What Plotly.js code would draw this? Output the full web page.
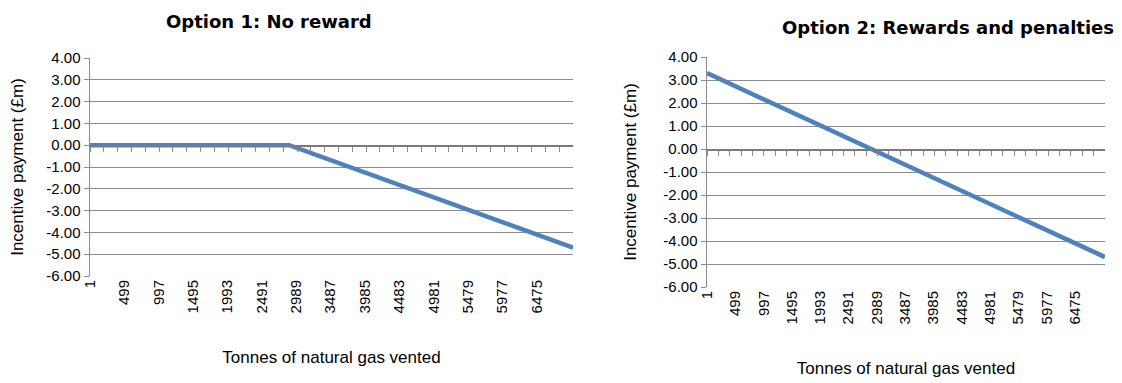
<!DOCTYPE html>
<html>
<head>
<meta charset="utf-8">
<script src="https://cdn.plot.ly/plotly-3.0.1.min.js"></script>
<style>
  html, body { margin: 0; padding: 0; background: #ffffff; }
  #chart { width: 1122px; height: 383px; }
</style>
</head>
<body>
<div id="chart"></div>
<script>
// Tonnes of natural gas vented at the points where each payment line changes
const tonnes = [1, 2888, 7000];
// Option 1: penalty only, no reward below the target
const optionNoReward = [0, 0, -4.70];
// Option 2: symmetric reward and penalty around the target
const optionRewardsPenalties = [3.30, 0, -4.70];

// Category labels shown along the horizontal axis
const tonneLabels = [1, 499, 997, 1495, 1993, 2491, 2989, 3487, 3985, 4483, 4981, 5479, 5977, 6475];
const paymentTicks = [4, 3, 2, 1, 0, -1, -2, -3, -4, -5, -6];

const chartTitles = ['Option 1: No reward', 'Option 2: Rewards and penalties'];
const xTitle = 'Tonnes of natural gas vented';
const yTitle = 'Incentive payment (£m)';

const W = 1122, H = 383;
const lineColor = '#4F81BD';
const gridColor = '#8c8c8c';
const sans = 'Liberation Sans, Arial, sans-serif';
const tickFont = { family: sans, size: 15, color: '#000000' };
const titleFont = { family: sans, size: 17, color: '#000000' };

// Plot panels in pixels: [left, right, top, bottom], plus title offsets
const panels = [
  { l: 90, r: 573, t: 58, b: 276, yStand: 18, xStand: 38 },
  { l: 707, r: 1105, t: 57, b: 287, yStand: 22, xStand: 38 }
];
const xDom = p => [p.l / W, p.r / W];
const yDom = p => [1 - p.b / H, 1 - p.t / H];
const yRange = [-6, 4];
const zeroPos = p => {
  const d = yDom(p);
  return d[0] + (0 - yRange[0]) / (yRange[1] - yRange[0]) * (d[1] - d[0]);
};
const xRange = [tonnes[0], tonnes[tonnes.length - 1]];

const labelAxis = (p, anchor) => ({
  domain: xDom(p), anchor: anchor, range: xRange,
  tickmode: 'array', tickvals: tonneLabels, ticktext: tonneLabels.map(String),
  tickangle: -90, ticks: '', showgrid: false, zeroline: false, showline: false,
  tickfont: tickFont,
  title: { text: xTitle, font: titleFont, standoff: p.xStand }
});
// Horizontal axis line drawn through zero with its small tick marks
const zeroAxis = (p, overlay) => ({
  domain: xDom(p), overlaying: overlay, anchor: 'free', position: zeroPos(p), range: xRange,
  tickmode: 'linear', tick0: 1, dtick: 200, ticks: 'outside', ticklen: 5, tickwidth: 1,
  tickcolor: '#8c8c8c', showticklabels: false, showgrid: false, zeroline: false,
  showline: true, linecolor: '#7a7a7a', linewidth: 1.5
});
const valueAxis = (p, anchor) => ({
  domain: yDom(p), anchor: anchor, range: yRange,
  tickmode: 'array', tickvals: paymentTicks, ticktext: paymentTicks.map(v => v.toFixed(2)),
  ticks: 'outside', ticklen: 5, tickcolor: '#8c8c8c',
  showgrid: true, gridcolor: gridColor, gridwidth: 1, zeroline: false,
  showline: true, linecolor: '#8c8c8c', linewidth: 1.5,
  tickfont: tickFont,
  title: { text: yTitle, font: titleFont, standoff: p.yStand }
});

const traces = [
  // carriers so the zero-line axes are drawn
  { x: xRange, y: [0, 0], xaxis: 'x3', yaxis: 'y', type: 'scatter', mode: 'lines',
    line: { color: 'rgba(0,0,0,0)', width: 0 }, hoverinfo: 'skip' },
  { x: xRange, y: [0, 0], xaxis: 'x4', yaxis: 'y2', type: 'scatter', mode: 'lines',
    line: { color: 'rgba(0,0,0,0)', width: 0 }, hoverinfo: 'skip' },
  { x: tonnes, y: optionNoReward, xaxis: 'x', yaxis: 'y', type: 'scatter', mode: 'lines',
    line: { color: lineColor, width: 4.5 }, hoverinfo: 'skip' },
  { x: tonnes, y: optionRewardsPenalties, xaxis: 'x2', yaxis: 'y2', type: 'scatter', mode: 'lines',
    line: { color: lineColor, width: 4.5 }, hoverinfo: 'skip' }
];

const layout = {
  width: W, height: H,
  margin: { l: 0, r: 0, t: 0, b: 0 },
  paper_bgcolor: '#ffffff', plot_bgcolor: 'rgba(0,0,0,0)',
  showlegend: false,
  xaxis: labelAxis(panels[0], 'y'),
  yaxis: valueAxis(panels[0], 'x'),
  xaxis2: labelAxis(panels[1], 'y2'),
  yaxis2: valueAxis(panels[1], 'x2'),
  xaxis3: zeroAxis(panels[0], 'x'),
  xaxis4: zeroAxis(panels[1], 'x2'),
  annotations: [
    { text: '<b>' + chartTitles[0] + '</b>', xref: 'paper', yref: 'paper',
      x: 269 / W, y: 1 - 22 / H, xanchor: 'center', yanchor: 'middle', showarrow: false,
      font: { family: 'DejaVu Sans, Verdana, sans-serif', size: 18, color: '#000000' } },
    { text: '<b>' + chartTitles[1] + '</b>', xref: 'paper', yref: 'paper',
      x: 948 / W, y: 1 - 27 / H, xanchor: 'center', yanchor: 'middle', showarrow: false,
      font: { family: 'DejaVu Sans, Verdana, sans-serif', size: 18, color: '#000000' } }
  ]
};

Plotly.newPlot('chart', traces, layout, { staticPlot: true, displayModeBar: false });
</script>
</body>
</html>
